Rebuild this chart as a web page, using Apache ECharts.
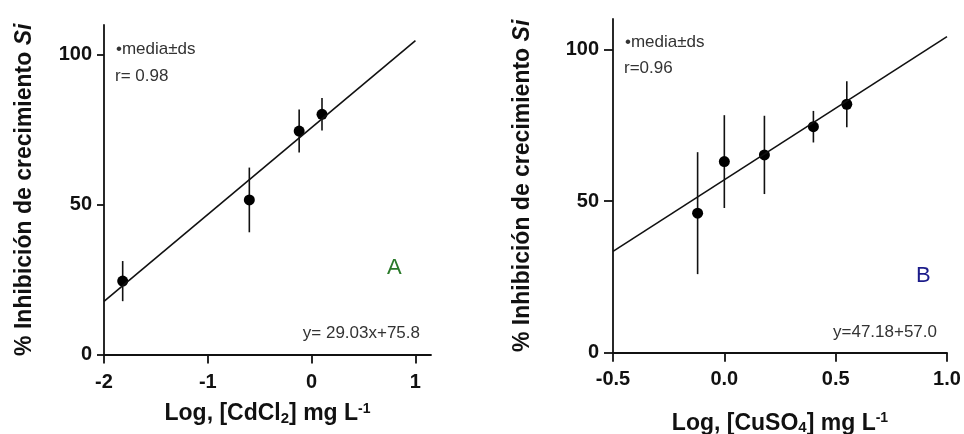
<!DOCTYPE html>
<html><head><meta charset="utf-8">
<script src="https://cdn.jsdelivr.net/npm/echarts@6/dist/echarts.min.js"></script>
<style>html,body{margin:0;padding:0;background:#fff}#c{width:964px;height:434px}</style>
</head><body><div id="c"></div>
<script>
// Panel A: CdCl2
const xA = [-1.82, -0.60, -0.12, 0.10];
const yA = [24.5, 51.6, 74.6, 80.2];
const sdA = [6.7, 10.8, 7.2, 5.4];
const fitAx = [-2, 1];
const fitAy = [17.7, 104.8];
const xTicksA = [-2, -1, 0, 1];
// Panel B: CuSO4
const xB = [-0.12, 0.0, 0.18, 0.40, 0.55];
const yB = [46.0, 63.0, 65.2, 74.5, 81.9];
const sdB = [20.1, 15.3, 12.9, 5.2, 7.6];
const fitBx = [-0.5, 1.0];
const fitBy = [33.4, 104.2];
const xTicksB = [-0.5, 0.0, 0.5, 1.0];
const yTicks = [0, 50, 100];

const FONT = '"Liberation Sans", Arial, sans-serif';
const chart = echarts.init(document.getElementById('c'));

function pts(xs, ys) { return xs.map((x, i) => [x, ys[i]]); }
function errData(xs, ys, sds) { return xs.map((x, i) => [x, ys[i], sds[i]]); }
function errItem(params, api) {
  const x = api.value(0), y = api.value(1), s = api.value(2);
  const p1 = api.coord([x, y - s]);
  const p2 = api.coord([x, y + s]);
  return { type: 'line', shape: { x1: p1[0], y1: p1[1], x2: p2[0], y2: p2[1] },
           style: { stroke: '#111', lineWidth: 1.6 } };
}
const axisLine = { show: true, onZero: false, lineStyle: { color: '#111', width: 1.8 } };
const tickLbl = { color: '#111', fontWeight: 'bold', fontSize: 20, fontFamily: FONT };
const richName = {
  sub: { fontSize: 15, fontWeight: 'bold', fontFamily: FONT, color: '#111', padding: [10, 0, 0, 0] },
  sup: { fontSize: 14, fontWeight: 'bold', fontFamily: FONT, color: '#111', padding: [0, 0, 10, 0] },
  it: { fontSize: 23, fontWeight: 'bold', fontStyle: 'italic', fontFamily: FONT, color: '#111' }
};
const nameStyle = { color: '#111', fontWeight: 'bold', fontSize: 23, fontFamily: FONT, rich: richName };

function xAx(grid, min, max, ticks, fmt, name, gap, lm) {
  return { type: 'value', gridIndex: grid, min: min, max: max, splitLine: { show: false },
    axisLine: axisLine,
    axisTick: { show: true, length: 9, customValues: ticks, lineStyle: { color: '#111', width: 1.8 } },
    axisLabel: Object.assign({ margin: lm, customValues: ticks, formatter: fmt }, tickLbl),
    name: name, nameLocation: 'middle', nameGap: gap, nameTextStyle: nameStyle };
}
function yAx(grid, gap, tl, lm) {
  return { type: 'value', gridIndex: grid, min: 0, max: 110, splitLine: { show: false },
    axisLine: axisLine,
    axisTick: { show: true, length: tl, customValues: yTicks, lineStyle: { color: '#111', width: 1.8 } },
    axisLabel: Object.assign({ margin: lm, customValues: yTicks }, tickLbl),
    name: '% Inhibición de crecimiento {it|Si}', nameLocation: 'middle', nameRotate: 90, nameGap: gap,
    nameTextStyle: nameStyle };
}
const annot = (x, y, text, extra) => ({ type: 'text', left: x, top: y,
  style: Object.assign({ text: text, fill: '#333', fontSize: 17, fontFamily: FONT }, extra || {}) });

chart.setOption({
  animation: false,
  grid: [
    { left: 104, top: 25, width: 327, height: 329.5, outerBoundsMode: 'none', containLabel: false },
    { left: 613, top: 19, width: 334, height: 333.7, outerBoundsMode: 'none', containLabel: false }
  ],
  xAxis: [
    xAx(0, -2, 1.15, xTicksA, v => String(v), 'Log, [CdCl{sub|2}] mg L{sup|-1}', 47, 18),
    xAx(1, -0.5, 1.0, xTicksB, v => v.toFixed(1), 'Log, [CuSO{sub|4}] mg L{sup|-1}', 58, 17)
  ],
  yAxis: [ yAx(0, 68, 7, 12), yAx(1, 79, 9, 14) ],
  series: [
    { type: 'line', xAxisIndex: 0, yAxisIndex: 0, data: pts(fitAx, fitAy), showSymbol: false,
      lineStyle: { color: '#111', width: 1.6 } },
    { type: 'custom', xAxisIndex: 0, yAxisIndex: 0, data: errData(xA, yA, sdA), renderItem: errItem },
    { type: 'scatter', xAxisIndex: 0, yAxisIndex: 0, data: pts(xA, yA), symbolSize: 11,
      itemStyle: { color: '#000', opacity: 1 } },
    { type: 'line', xAxisIndex: 1, yAxisIndex: 1, data: pts(fitBx, fitBy), showSymbol: false,
      lineStyle: { color: '#111', width: 1.6 } },
    { type: 'custom', xAxisIndex: 1, yAxisIndex: 1, data: errData(xB, yB, sdB), renderItem: errItem },
    { type: 'scatter', xAxisIndex: 1, yAxisIndex: 1, data: pts(xB, yB), symbolSize: 11,
      itemStyle: { color: '#000', opacity: 1 } }
  ],
  graphic: [
    annot(116, 41, '•media±ds'),
    annot(115, 68, 'r= 0.98'),
    annot(387, 257, 'A', { fill: '#2a7a2a', fontSize: 22 }),
    { type: 'text', right: 964 - 420, top: 325, style: { text: 'y= 29.03x+75.8', fill: '#333', fontSize: 17, fontFamily: FONT, align: 'right' } },
    annot(625, 34, '•media±ds'),
    annot(624, 60, 'r=0.96'),
    annot(916, 265, 'B', { fill: '#1c1c8a', fontSize: 22 }),
    { type: 'text', right: 964 - 937, top: 324, style: { text: 'y=47.18+57.0', fill: '#333', fontSize: 17, fontFamily: FONT, align: 'right' } }
  ]
});
</script></body></html>
